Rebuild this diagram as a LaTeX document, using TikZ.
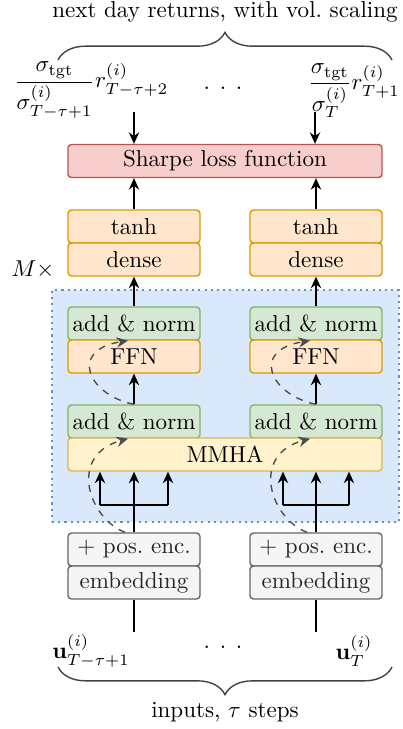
\documentclass[tikz,border=0pt]{standalone}
\usepackage{amsmath}
\usetikzlibrary{arrows.meta,decorations.pathreplacing}
\definecolor{redfill}{HTML}{F8CECC}\definecolor{redline}{HTML}{B85450}
\definecolor{orfill}{HTML}{FFE6CC}\definecolor{orline}{HTML}{D79B00}
\definecolor{grfill}{HTML}{D5E8D4}\definecolor{grline}{HTML}{82B366}
\definecolor{yefill}{HTML}{FFF2CC}\definecolor{yeline}{HTML}{D6B656}
\definecolor{blfill}{HTML}{DAE8FC}\definecolor{blline}{HTML}{6C8EBF}
\definecolor{gyfill}{HTML}{F5F5F5}\definecolor{gyline}{HTML}{666666}
\begin{document}
\begin{tikzpicture}[x=0.434pt,y=-0.434pt,
  >={Stealth[length=5pt,width=4.5pt]},
  box/.style={draw, rounded corners=1.5pt, line width=0.6pt, minimum height=14.3pt, inner sep=0pt},
  narrow/.style={box, minimum width=57.3pt},
  wide/.style={box, minimum width=136.3pt},
  redbox/.style={wide, fill=redfill, draw=redline},
  orbox/.style={narrow, fill=orfill, draw=orline},
  grbox/.style={narrow, fill=grfill, draw=grline},
  yebox/.style={wide, fill=yefill, draw=yeline},
  gybox/.style={narrow, fill=gyfill, draw=gyline, text=black!85},
  conn/.style={->, line width=0.6pt},
  plain/.style={line width=0.6pt},
  skipc/.style={->, dashed, line width=0.6pt, draw=black!70},
  bracestyle/.style={decorate, decoration={brace, amplitude=12pt}, line width=0.6pt, draw=black!75}]
\useasboundingbox (0,0) rectangle (403,729);

% repeated block background
\node[draw=blline, fill=blfill, line width=0.9pt, dash pattern=on 0.9pt off 1.8pt,
      minimum width=150.6pt, minimum height=100.7pt, inner sep=0pt] (block) at (225.5,406) {};
\node (mtimes) at (33,270) {$M\times$};

% top
\node (toptext) at (225,12) {next day returns, with vol.\ scaling};
\coordinate (tbL) at (58,60);
\coordinate (tbR) at (392,60);
\draw[bracestyle] (tbL) -- (tbR);
\node (retL) at (91,90) {$\displaystyle\frac{\sigma_{\text{tgt}}}{\sigma^{(i)}_{T-\tau+1}}r^{(i)}_{T-\tau+2}$};
\node (retR) at (354,91) {$\displaystyle\frac{\sigma_{\text{tgt}}}{\sigma^{(i)}_{T}}r^{(i)}_{T+1}$};
\node (dotsT) at (223,88) {.\hspace{4.2pt}.\hspace{4.2pt}.};

\node[redbox] (sharpe) at (225,161) {Sharpe loss function};
\coordinate (inL) at (134,112);
\coordinate (inR) at (315,112);
\draw[conn] (inL) -- (inL |- sharpe.north);
\draw[conn] (inR) -- (inR |- sharpe.north);

% columns
\node[orbox] (tanhL) at (134,226.5) {tanh};
\node[orbox] (denseL) at (134,259.5) {dense};
\node[orbox] (tanhR) at (316,226.5) {tanh};
\node[orbox] (denseR) at (316,259.5) {dense};
\draw[conn] (tanhL.north) -- (tanhL.north |- sharpe.south);
\draw[conn] (tanhR.north) -- (tanhR.north |- sharpe.south);

\node[grbox] (an1L) at (134,323.5) {add \& norm};
\node[orbox] (ffnL) at (134,356.5) {FFN};
\node[grbox] (an2L) at (134,421.5) {add \& norm};
\node[grbox] (an1R) at (316,323.5) {add \& norm};
\node[orbox] (ffnR) at (316,356.5) {FFN};
\node[grbox] (an2R) at (316,421.5) {add \& norm};
\node[yebox] (mmha) at (225,454.5) {MMHA};

\draw[conn] (an1L.north) -- (denseL.south);
\draw[conn] (an1R.north) -- (denseR.south);
\draw[conn] (an2L.north) -- (ffnL.south);
\draw[conn] (an2R.north) -- (ffnR.south);

\node[gybox] (posL) at (134,549.5) {$+$ pos.\ enc.};
\node[gybox] (embL) at (134,582.5) {embedding};
\node[gybox] (posR) at (316,549.5) {$+$ pos.\ enc.};
\node[gybox] (embR) at (316,582.5) {embedding};

% forks into MMHA
\coordinate (fL) at (134,505);
\coordinate (fLa) at (100,505);
\coordinate (fLb) at (168,505);
\coordinate (fR) at (316,505);
\coordinate (fRa) at (283,505);
\coordinate (fRb) at (349,505);
\draw[plain] (posL.north) -- (fL);
\draw[plain] (posR.north) -- (fR);
\draw[plain] (fLa) -- (fLb);
\draw[plain] (fRa) -- (fRb);
\draw[conn] (fL) -- (fL |- mmha.south);
\draw[conn] (fLa) -- (fLa |- mmha.south);
\draw[conn] (fLb) -- (fLb |- mmha.south);
\draw[conn] (fR) -- (fR |- mmha.south);
\draw[conn] (fRa) -- (fRa |- mmha.south);
\draw[conn] (fRb) -- (fRb |- mmha.south);

% residual connections
\draw[skipc] (an2L.north) .. controls (88,395) and (68,350) .. ([xshift=-2.6pt]an1L.south);
\draw[skipc] (an2R.north) .. controls (270,395) and (250,350) .. ([xshift=-2.6pt]an1R.south);
\draw[skipc] ([xshift=-3.9pt]posL.north) .. controls (88,518) and (68,455) .. ([xshift=-2.6pt]an2L.south);
\draw[skipc] ([xshift=-3.9pt]posR.north) .. controls (270,518) and (250,455) .. ([xshift=-2.6pt]an2R.south);

% inputs
\coordinate (botL) at (134,632);
\coordinate (botR) at (316,632);
\draw[plain] (embL.south) -- (botL);
\draw[plain] (embR.south) -- (botR);
\node (uL) at (91,651) {$\mathbf{u}^{(i)}_{T-\tau+1}$};
\node (uR) at (354,651) {$\mathbf{u}^{(i)}_{T}$};
\node (dotsB) at (223,647) {.\hspace{4.2pt}.\hspace{4.2pt}.};
\coordinate (bbR) at (392,667);
\coordinate (bbL) at (58,667);
\draw[bracestyle] (bbR) -- (bbL);
\node (bottext) at (225,712) {inputs, $\tau$ steps};
\end{tikzpicture}
\end{document}
